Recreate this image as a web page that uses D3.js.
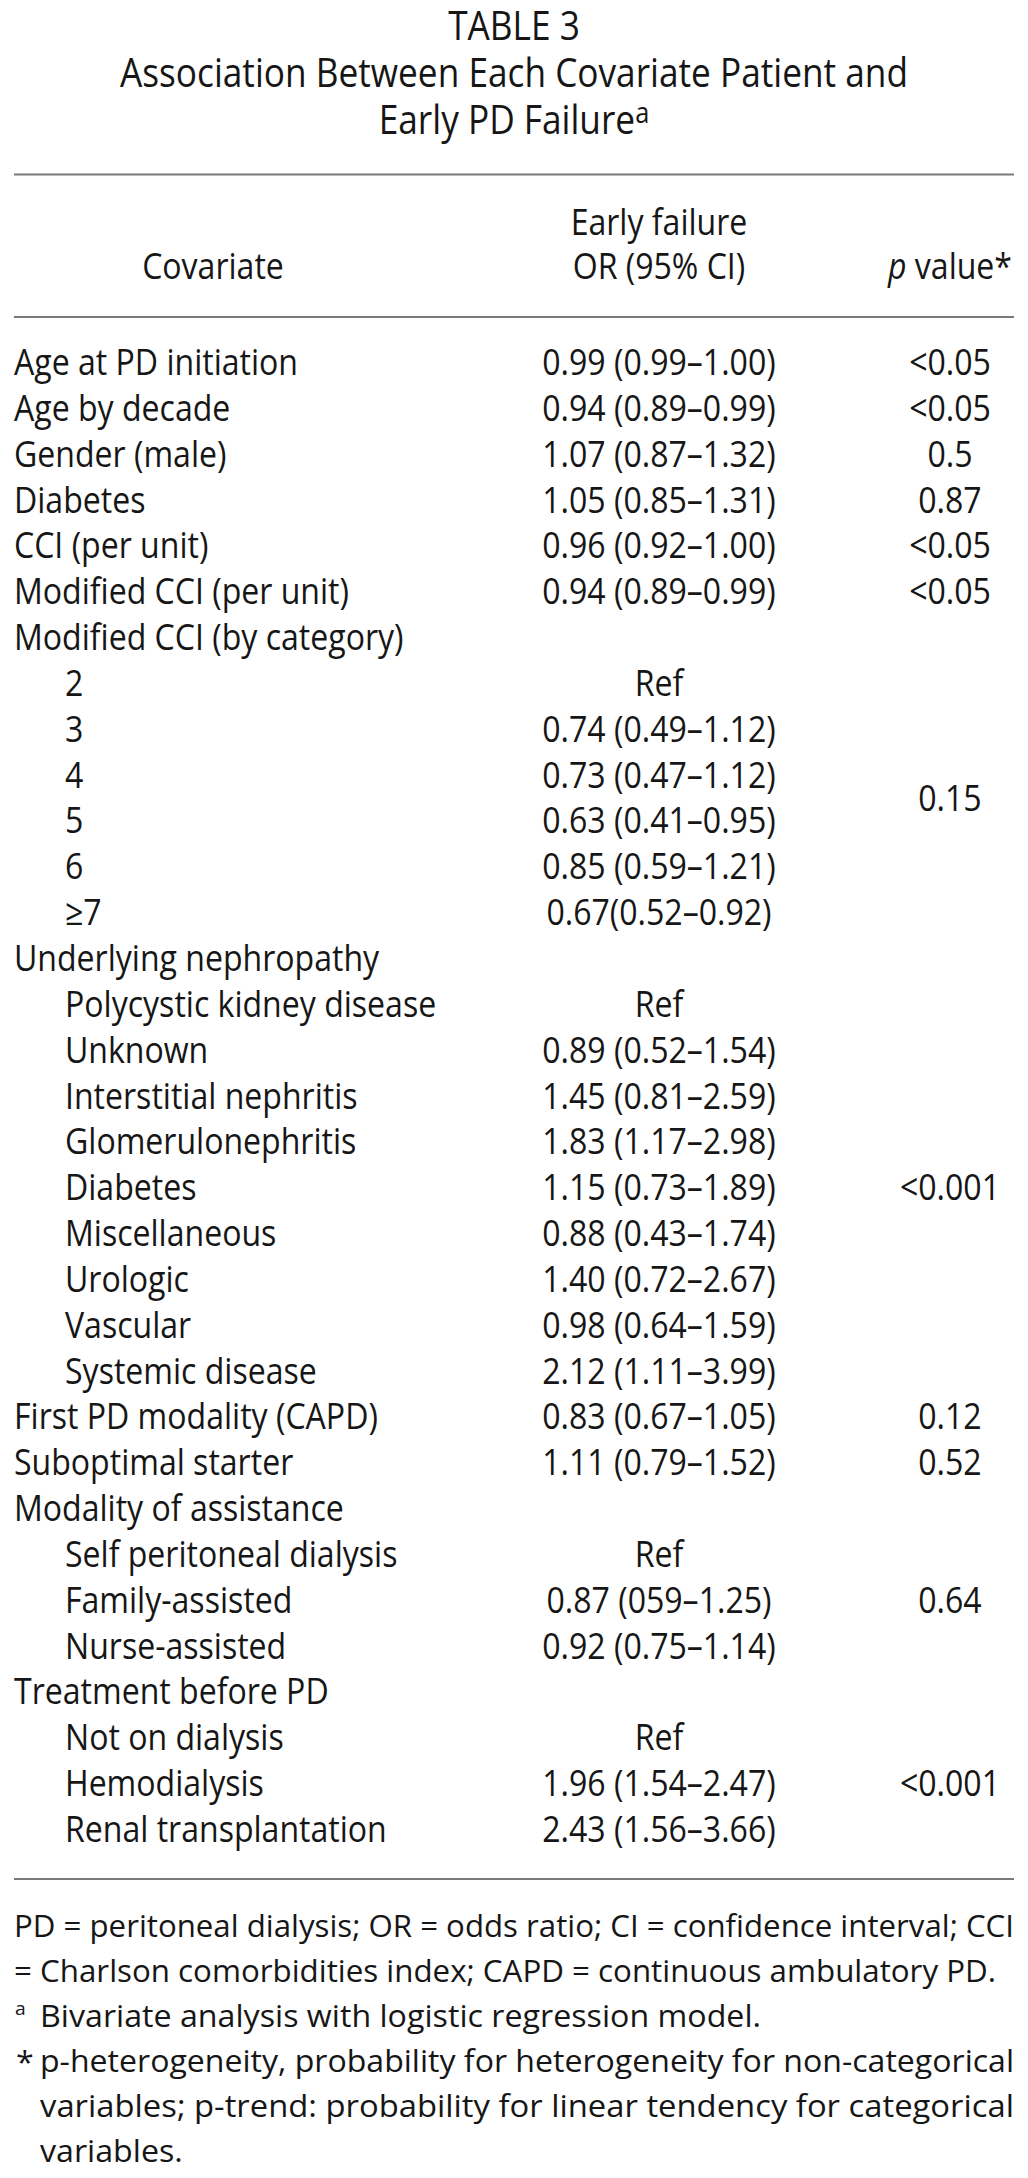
<!DOCTYPE html>
<html><head><meta charset="utf-8">
<script src="https://cdn.jsdelivr.net/npm/d3@7"></script>
<style>
body{margin:0;background:#fff}
svg text{font-family:"Open Sans","Noto Sans",sans-serif;fill:#161616}
</style></head>
<body><svg id="chart" width="1028" height="2178"></svg>
<script>
const titleLines = ["TABLE 3", "Association Between Each Covariate Patient and", "Early PD Failure"];
const headerCols = ["Covariate", "OR (95% CI)", "value*"];
const headerTop = "Early failure";

const covariates = [
  "Age at PD initiation","Age by decade","Gender (male)","Diabetes","CCI (per unit)",
  "Modified CCI (per unit)","Modified CCI (by category)","2","3","4","5","6","≥7",
  "Underlying nephropathy","Polycystic kidney disease","Unknown","Interstitial nephritis",
  "Glomerulonephritis","Diabetes","Miscellaneous","Urologic","Vascular","Systemic disease",
  "First PD modality (CAPD)","Suboptimal starter","Modality of assistance",
  "Self peritoneal dialysis","Family-assisted","Nurse-assisted","Treatment before PD",
  "Not on dialysis","Hemodialysis","Renal transplantation"
];
const indented = [0,0,0,0,0,0,0,1,1,1,1,1,1,0,1,1,1,1,1,1,1,1,1,0,0,0,1,1,1,0,1,1,1];
const orValues = [
  "0.99 (0.99–1.00)","0.94 (0.89–0.99)","1.07 (0.87–1.32)","1.05 (0.85–1.31)","0.96 (0.92–1.00)",
  "0.94 (0.89–0.99)","","Ref","0.74 (0.49–1.12)","0.73 (0.47–1.12)","0.63 (0.41–0.95)",
  "0.85 (0.59–1.21)","0.67(0.52–0.92)","","Ref","0.89 (0.52–1.54)","1.45 (0.81–2.59)",
  "1.83 (1.17–2.98)","1.15 (0.73–1.89)","0.88 (0.43–1.74)","1.40 (0.72–2.67)",
  "0.98 (0.64–1.59)","2.12 (1.11–3.99)","0.83 (0.67–1.05)","1.11 (0.79–1.52)","",
  "Ref","0.87 (059–1.25)","0.92 (0.75–1.14)","","Ref","1.96 (1.54–2.47)","2.43 (1.56–3.66)"
];
const pLabels = ["<0.05","<0.05","0.5","0.87","<0.05","<0.05","0.15","<0.001","0.12","0.52","0.64","<0.001"];
const pFirstRow = [0,1,2,3,4,5,7,14,23,24,26,30];
const pLastRow  = [0,1,2,3,4,5,12,22,23,24,28,32];

const footLines = [
  "PD = peritoneal dialysis; OR = odds ratio; CI = confidence interval; CCI",
  "= Charlson comorbidities index; CAPD = continuous ambulatory PD.",
  "Bivariate analysis with logistic regression model.",
  "p-heterogeneity, probability for heterogeneity for non-categorical",
  "variables; p-trend: probability for linear tendency for categorical",
  "variables."
];
const footMarks = ["", "", "a", "*", "", ""];
const footJustify = [1, 0, 0, 1, 1, 0];

const svg = d3.select("#chart");
const W = 1028, L = 14, R = 1014;
const titleSize = 40, bodySize = 36, footSize = 31.5;

function natural(sample, size) {
  const t = svg.append("text").attr("font-size", size).text(sample);
  const w = t.node().getComputedTextLength();
  t.remove();
  return w;
}
const titleSx = 788 / natural(titleLines[1], titleSize);
const bodySx = 284 / natural(covariates[0], bodySize);
const footSx = 721 / natural(footLines[2], footSize);

function put(parent, str, x, y, size, anchor) {
  return parent.append("text").attr("x", x).attr("y", y)
    .attr("text-anchor", anchor || "start").attr("font-size", size).text(str);
}
// horizontally condense a text by factor sx
function squeeze(t, sx) {
  const w = t.node().getComputedTextLength() * sx;
  t.attr("textLength", w).attr("lengthAdjust", "spacingAndGlyphs");
  return t;
}

// Title
const titleY = d3.scaleLinear().domain([0, 2]).range([40, 134]);
const tg = svg.append("g");
titleLines.forEach((s, i) => {
  const t = put(tg, s, W / 2, titleY(i), titleSize, "middle");
  if (i === 2) t.append("tspan").attr("font-size", titleSize * 0.72).attr("dy", -11).text("a");
  squeeze(t, titleSx);
});

// Rules
const ruleYs = [174.5, 317, 1879];
svg.selectAll("line.rule").data(ruleYs).join("line").attr("class", "rule")
  .attr("x1", L).attr("x2", R).attr("y1", d => d).attr("y2", d => d)
  .attr("stroke", "#7a7a7a").attr("stroke-width", 2);

// Columns
const colX = d3.scaleOrdinal().domain(["cov", "or", "p"]).range([213, 659, 950]);

// Header
const hg = svg.append("g");
squeeze(put(hg, headerTop, colX("or"), 235, bodySize, "middle"), bodySx);
squeeze(put(hg, headerCols[0], colX("cov"), 279, bodySize, "middle"), bodySx);
squeeze(put(hg, headerCols[1], colX("or"), 279, bodySize, "middle"), bodySx);
const ph = put(hg, "", colX("p"), 279, bodySize, "middle");
ph.append("tspan").attr("font-style", "italic").text("p ");
ph.append("tspan").text(headerCols[2]);
squeeze(ph, bodySx);

// Rows
const rowY = d3.scalePoint().domain(d3.range(covariates.length)).range([375, 1842]);
const body = svg.append("g");
covariates.forEach((s, i) => squeeze(put(body, s, indented[i] ? 65 : L, rowY(i), bodySize, "start"), bodySx));
orValues.forEach((s, i) => { if (s) squeeze(put(body, s, colX("or"), rowY(i), bodySize, "middle"), bodySx); });
pLabels.forEach((s, i) => squeeze(put(body, s, colX("p"), (rowY(pFirstRow[i]) + rowY(pLastRow[i])) / 2, bodySize, "middle"), bodySx));

// Footnotes
const footY = d3.scaleLinear().domain([0, 5]).range([1937, 2162]);
const footRight = [R, 996, R, R, R, R];
const fg = svg.append("g");
footLines.forEach((s, i) => {
  const x0 = (i >= 2) ? 40 : L;
  if (footMarks[i] === "a") squeeze(put(fg, "a", 15, footY(i) - 12, footSize * 0.6, "start"), footSx);
  if (footMarks[i] === "*") squeeze(put(fg, "*", 16, footY(i) + 1, footSize, "start"), footSx);
  const t = put(fg, s, x0, footY(i), footSize, "start");
  const avail = footRight[i] - x0;
  const w = t.node().getComputedTextLength() * footSx;
  t.attr("textLength", footJustify[i] ? avail : Math.min(w, avail)).attr("lengthAdjust", "spacingAndGlyphs");
});
</script>
</body></html>
